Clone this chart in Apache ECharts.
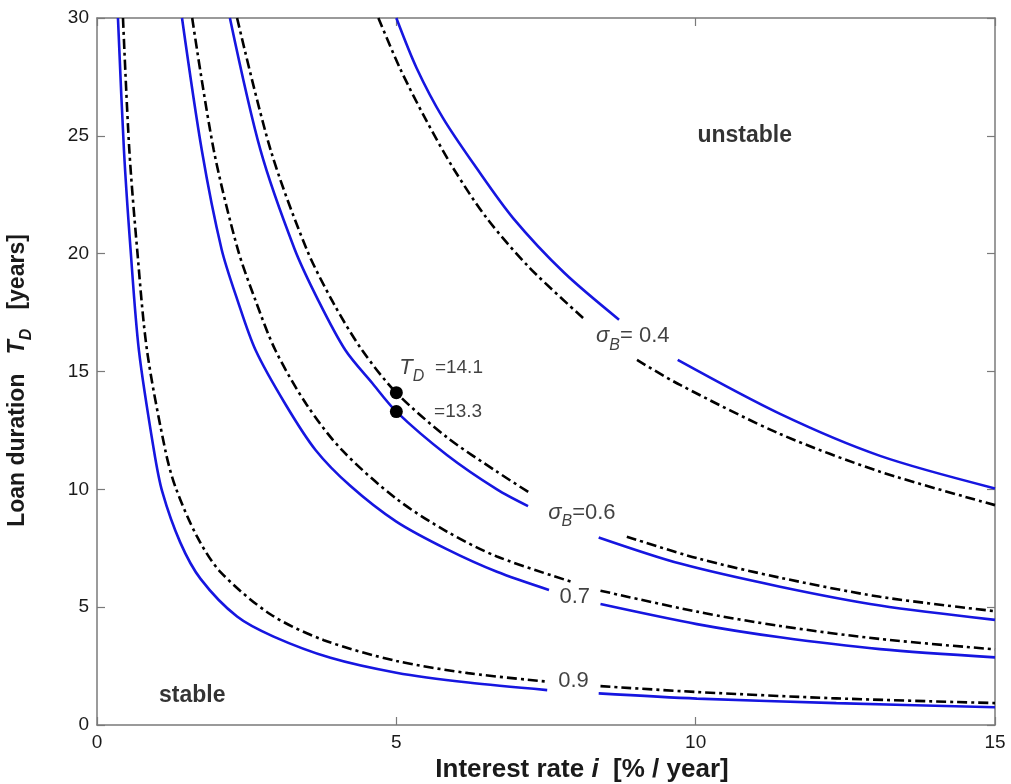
<!DOCTYPE html>
<html><head><meta charset="utf-8">
<script src="https://cdn.jsdelivr.net/npm/echarts/dist/echarts.min.js"></script>
<style>html,body{margin:0;padding:0;background:#fff}#c{width:1011px;height:784px}</style>
</head><body><div id="c"></div>
<script>
// Interest rate i [%/year] vs loan duration T_D [years]; null = gap where the label sits
const blue04  = [[5.0,30],[5.34,27.87],[5.78,25.75],[6.34,23.63],[6.95,21.51],[7.8,19.2],[8.72,17.2],null,[9.70,15.49],[11.41,13.2],[13.08,11.42],[15,10.04]];
const black04 = [[4.70,30],[5.06,27.87],[5.48,25.75],[5.95,23.63],[6.51,21.51],[7.23,19.39],[8.12,17.27],null,[9.02,15.49],[9.74,14.43],[11.41,12.35],[13.08,10.75],[15,9.33]];
const blue06  = [[2.22,30],[2.73,24.4],[3.3,20.2],[3.7,18.0],[4.15,15.9],[4.6,14.5],[5.0,13.3],[5.85,11.45],[6.68,10.0],[7.2,9.29],null,[8.38,7.96],[9.74,6.85],[11.41,5.87],[13.08,5.07],[15,4.46]];
const black06 = [[2.34,30],[2.9,24.4],[3.5,20.2],[3.95,17.9],[4.43,15.9],[5.0,14.1],[5.85,12.2],[6.68,10.75],[7.24,9.83],null,[8.85,7.99],[10.02,7.08],[11.41,6.25],[13.08,5.44],[15,4.83]];
const blue07  = [[1.42,30],[1.75,24.4],[2.08,20.2],[2.35,18.0],[2.65,15.9],[3.15,13.6],[3.65,11.67],[4.23,10.15],[5.0,8.63],[5.85,7.45],[6.68,6.5],[7.55,5.73],null,[8.41,5.13],[10.02,4.28],[11.41,3.72],[13.08,3.22],[15,2.87]];
const black07 = [[1.59,30],[1.95,24.4],[2.35,20.2],[2.65,18.0],[2.98,15.9],[3.5,13.6],[4.09,11.67],[5.0,9.6],[5.85,8.2],[6.68,7.15],[7.96,6.05],null,[8.41,5.70],[10.02,4.81],[11.41,4.2],[13.08,3.65],[15,3.21]];
const blue09  = [[0.35,30],[0.45,24.4],[0.56,20.2],[0.70,15.9],[0.95,11.67],[1.09,9.9],[1.39,7.75],[1.73,6.2],[2.34,4.6],[2.95,3.75],[3.90,2.85],[5.0,2.22],[6.2,1.8],[7.52,1.48],null,[8.38,1.34],[10.02,1.12],[12.35,0.93],[15,0.75]];
const black09 = [[0.434,30],[0.54,24.4],[0.67,20.2],[0.835,15.9],[1.14,11.67],[1.31,10.1],[1.67,8.0],[2.06,6.5],[2.895,4.7],[3.79,3.6],[5.0,2.72],[6.2,2.2],[7.52,1.84],null,[8.41,1.65],[10.02,1.4],[12.35,1.13],[15,0.93]];
const markedPoints = [[5,14.1],[5,13.3]];
const xTicks = [0,5,10,15];
const yTicks = [0,5,10,15,20,25,30];
// annotation texts and their anchor points (data coordinates)
const annTexts = ['unstable','stable','{s|σ}{sub|B}{n|= 0.4}','{s|σ}{sub|B}{n|=0.6}','{n|0.7}','{n|0.9}','{s|T}{sub|D}{m|  =14.1}','{m|=13.3}'];
const annPos   = [[10.82,25.0],[1.59,1.25],[8.95,16.5],[8.1,9.0],[7.98,5.45],[7.96,1.85],[5.05,15.15],[5.63,13.28]];

const FONT = '"Liberation Sans", Arial, Helvetica, sans-serif';
const BLUE = '#1616e0';
const INK = '#111';
const prep = a => a.map(p => p === null ? ['-','-'] : p);

const chart = echarts.init(document.getElementById('c'), null, {renderer:'canvas'});
const curveSeries = [];
[[blue04,black04],[blue06,black06],[blue07,black07],[blue09,black09]].forEach(([b,k]) => {
  curveSeries.push({type:'line', data:prep(b), smooth:0.3, symbol:'none', connectNulls:false,
    lineStyle:{color:BLUE, width:2.6}, silent:true, animation:false, clip:true});
  curveSeries.push({type:'line', data:prep(k), smooth:0.3, symbol:'none', connectNulls:false,
    lineStyle:{color:'#000', width:2.6, type:[10,4,3,4]}, silent:true, animation:false, clip:true});
});

const rich = {
  s:{fontFamily:FONT, fontSize:22, fontStyle:'italic', color:INK, lineHeight:34, verticalAlign:'middle'},
  sub:{fontFamily:FONT, fontSize:16, fontStyle:'italic', color:INK, lineHeight:34, verticalAlign:'bottom'},
  n:{fontFamily:FONT, fontSize:22, color:INK, lineHeight:34, verticalAlign:'middle'},
  m:{fontFamily:FONT, fontSize:19, color:INK, lineHeight:34, verticalAlign:'middle'}
};
const annData = annTexts.map((t,i) => {
  const bold = i < 2;
  const left = i >= 6;
  return {value: annPos[i], label:{show:true, position:[0,0], align: left ? 'left':'center', verticalAlign:'middle',
    formatter: t, fontFamily:FONT, fontSize: 23, fontWeight: bold ? 'bold' : 'normal', color:'#000', rich: bold ? undefined : rich}};
});

const axisLine = {show:true, onZero:false, lineStyle:{color:'#7a7a7a', width:1.5}};
const tick = {show:true, inside:true, length:8, lineStyle:{color:'#7a7a7a', width:1.2}};
const option = {
  backgroundColor:'#fff',
  animation:false,
  grid:{left:97, right:16, top:18, bottom:59, containLabel:false, outerBoundsMode:'none'},
  xAxis:[
    {type:'value', min:0, max:15, interval:5, position:'bottom',
     axisLine, axisTick:tick,
     axisLabel:{fontFamily:FONT, fontSize:19, color:'#1a1a1a', margin:8, customValues: xTicks},
     splitLine:{show:false},
     name:'{b|Interest rate }{bi|i}{b|  [% / year]}', nameLocation:'middle', nameGap:31,
     nameTextStyle:{padding:[0,0,0,72], rich:{b:{fontFamily:FONT, fontSize:26, fontWeight:'bold', color:'#1a1a1a'}, bi:{fontFamily:FONT, fontSize:26, fontWeight:'bold', fontStyle:'italic', color:'#1a1a1a'}}}},
    {type:'value', min:0, max:15, interval:5, position:'top',
     axisLine, axisTick:tick, axisLabel:{show:false}, splitLine:{show:false}}
  ],
  yAxis:[
    {type:'value', min:0, max:30, interval:5, position:'left',
     axisLine, axisTick:tick,
     axisLabel:{fontFamily:FONT, fontSize:19, color:'#1a1a1a', margin:8, customValues: yTicks},
     splitLine:{show:false},
     name:'{b|Loan duration   }{bi|T}{sub|D}{b|   [years]}', nameLocation:'middle', nameGap:62,
     nameTextStyle:{padding:[0,18,0,0], rich:{
       b:{fontFamily:FONT, fontSize:23, fontWeight:'bold', color:'#1a1a1a', lineHeight:34, verticalAlign:'middle'},
       bi:{fontFamily:FONT, fontSize:23, fontWeight:'bold', fontStyle:'italic', color:'#1a1a1a', lineHeight:34, verticalAlign:'middle'},
       sub:{fontFamily:FONT, fontSize:16, fontWeight:'bold', fontStyle:'italic', color:'#1a1a1a', lineHeight:34, verticalAlign:'bottom'}}}},
    {type:'value', min:0, max:30, interval:5, position:'right',
     axisLine, axisTick:tick, axisLabel:{show:false}, splitLine:{show:false}}
  ],
  series: curveSeries.concat([
    {type:'scatter', data:markedPoints, symbol:'circle', symbolSize:13, itemStyle:{color:'#000', opacity:1}, silent:true, z:5},
    {type:'scatter', data:annData, symbolSize:0, silent:true, z:6}
  ])
};
chart.setOption(option);
</script></body></html>
